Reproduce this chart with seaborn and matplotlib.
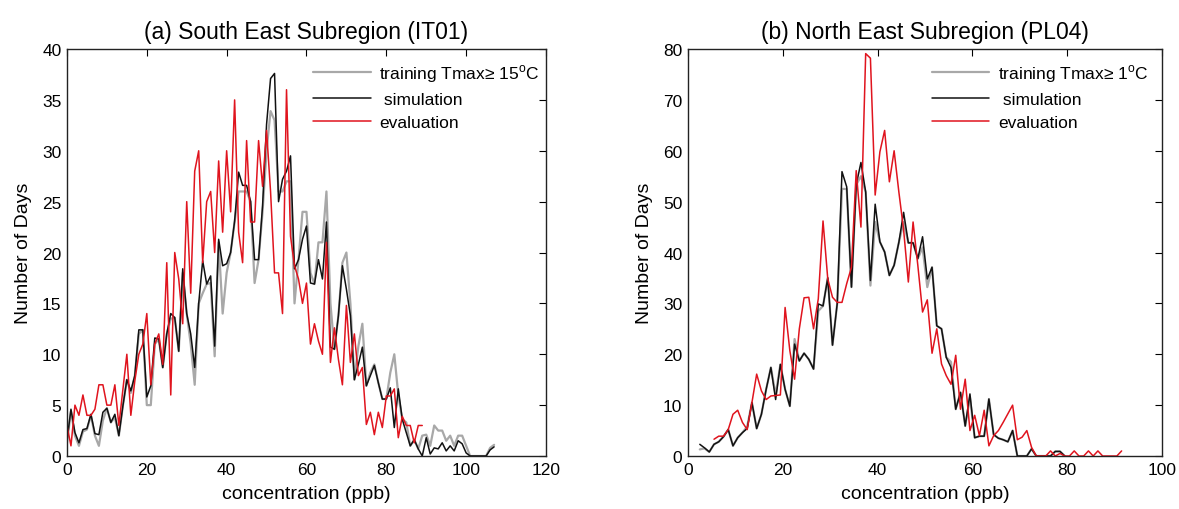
import numpy as np
import pandas as pd
import matplotlib
matplotlib.use('Agg')
import matplotlib.pyplot as plt
import seaborn as sns

# ---- panel (a) South East Subregion (IT01), bins of 1 ppb ----
conc_a = np.arange(0, 108)
sim_a = [1.5, 4.6, 2.3, 1.3, 2.6, 2.7, 4.1, 2.2, 2.1, 4.3,
         4.7, 3.3, 4.1, 2.0, 4.9, 7.5, 6.4, 7.9, 12.4, 12.4,
         5.8, 6.9, 11.6, 11.5, 8.7, 12.0, 14.0, 13.6, 10.3, 18.4,
         14.0, 12.0, 8.7, 15.0, 19.2, 16.9, 17.7, 10.8, 21.3, 18.7,
         18.9, 20.0, 23.1, 27.9, 26.6, 26.6, 25.0, 19.3, 19.3, 24.6,
         32.6, 37.1, 37.6, 25.0, 27.2, 28.0, 29.5, 18.4, 19.3, 21.3,
         22.6, 17.0, 16.9, 19.3, 17.4, 23.0, 10.7, 10.5, 13.8, 18.7,
         16.4, 13.8, 7.5, 9.0, 10.7, 6.9, 7.9, 8.9, 7.2, 5.6,
         5.6, 6.7, 2.8, 6.6, 3.6, 2.3, 1.0, 1.6, 0.7, 0.0,
         1.8, 0.2, 0.8, 0.7, 1.3, 0.5, 1.0, 0.5, 1.5, 1.2,
         0.3, 0.0, 0.0, 0.0, 0.0, 0.0, 0.6, 0.9]
train_a = [1.3, 4.4, 2.0, 1.0, 2.4, 2.6, 4.0, 2.0, 1.0, 3.5,
           4.7, 3.3, 3.8, 2.0, 4.9, 7.5, 6.2, 7.9, 12.0, 12.4,
           5.0, 5.0, 11.0, 11.5, 8.7, 12.0, 13.5, 13.6, 10.3, 18.0,
           14.0, 11.0, 7.0, 15.0, 16.0, 16.9, 17.0, 9.8, 21.0, 14.0,
           18.0, 20.0, 23.0, 26.0, 26.0, 26.0, 25.0, 17.0, 19.3, 24.0,
           30.0, 33.9, 33.0, 26.0, 26.0, 27.0, 27.0, 15.0, 19.3, 24.0,
           24.0, 18.0, 16.9, 21.0, 21.0, 26.0, 15.0, 10.5, 13.8, 19.0,
           20.0, 15.0, 7.5, 10.8, 13.0, 6.9, 8.2, 9.0, 7.2, 5.6,
           5.6, 8.2, 10.0, 6.0, 3.6, 3.3, 1.0, 1.6, 0.7, 2.0,
           2.1, 1.0, 3.0, 2.5, 2.5, 1.5, 2.0, 1.0, 2.0, 2.0,
           1.0, 0.0, 0.0, 0.0, 0.0, 0.0, 0.8, 1.1]
conc_a_eval = np.arange(0, 90)
eval_a = [3.0, 1.0, 5.0, 4.0, 6.0, 4.0, 4.0, 4.6, 7.0, 7.0,
          5.0, 5.0, 7.0, 3.0, 6.5, 10.0, 4.0, 7.4, 10.0, 11.0,
          14.0, 7.0, 11.0, 12.0, 9.0, 19.0, 6.0, 20.0, 17.4, 13.0,
          25.0, 16.0, 28.0, 30.0, 19.0, 25.0, 26.0, 20.0, 29.0, 22.0,
          30.0, 24.0, 35.0, 22.0, 19.0, 31.0, 23.0, 23.0, 31.0, 26.5,
          32.0, 26.0, 18.0, 18.0, 14.0, 36.0, 21.6, 18.7, 17.4, 15.0,
          17.0, 11.0, 13.0, 11.3, 10.0, 21.0, 9.2, 12.6, 9.5, 7.0,
          14.8, 9.2, 12.0, 7.9, 8.7, 3.1, 4.3, 2.1, 4.3, 2.8,
          5.9, 5.9, 6.6, 1.8, 3.9, 3.0, 3.0, 1.3, 3.0, 3.0]

# ---- panel (b) North East Subregion (PL04), bin centres ----
conc_b = np.arange(2, 80) + 0.5
sim_b = [2.3, 1.6, 0.8, 2.3, 2.8, 3.8, 5.2, 2.0, 3.6, 4.6,
         5.4, 10.5, 5.4, 8.2, 13.1, 17.4, 11.1, 18.0, 13.1, 9.8,
         22.0, 18.7, 20.2, 19.0, 17.1, 29.9, 29.5, 35.0, 21.8, 30.0,
         55.9, 52.9, 33.2, 53.3, 57.7, 51.9, 34.5, 49.5, 42.1, 40.1,
         35.5, 37.5, 42.0, 47.9, 41.9, 41.9, 38.8, 43.1, 34.8, 37.1,
         25.6, 25.0, 19.4, 17.4, 9.2, 12.5, 5.9, 12.2, 3.6, 3.9,
         3.9, 11.2, 4.2, 3.5, 3.2, 2.8, 5.0, 0.0, 0.0, 0.0,
         1.4, 0.0, 0.0, 0.0, 0.0, 0.9, 0.9, 0.0]
train_b = [1.3, 1.5, 0.8, 2.3, 2.8, 3.8, 5.2, 2.0, 3.6, 4.6,
           5.8, 10.5, 5.4, 8.2, 13.1, 17.4, 12.0, 18.0, 13.1, 9.8,
           23.0, 18.7, 20.2, 19.0, 17.1, 28.5, 29.5, 35.0, 21.8, 30.0,
           52.5, 52.5, 33.2, 53.3, 55.0, 51.9, 33.5, 46.0, 42.1, 40.1,
           35.5, 37.5, 42.0, 46.0, 41.9, 41.9, 38.8, 41.0, 33.2, 37.1,
           25.6, 25.0, 19.4, 18.5, 9.2, 12.5, 5.9, 11.5, 3.6, 3.9,
           3.9, 11.2, 4.2, 3.5, 3.2, 2.8, 5.0, 0.0, 0.0, 0.0,
           1.4, 0.0, 0.0, 0.0, 0.0, 0.9, 0.9, 0.0]
conc_b_eval = np.arange(5, 92) + 0.5
eval_b = [3.3, 3.9, 3.9, 5.2, 8.2, 9.0, 6.6, 5.2, 10.5, 16.1,
          12.8, 11.1, 11.8, 11.9, 12.0, 29.2, 20.7, 15.1, 25.0, 31.1,
          31.2, 25.0, 30.9, 46.2, 34.8, 31.2, 30.2, 30.2, 33.9, 37.1,
          56.1, 45.0, 79.1, 78.2, 51.3, 59.8, 64.0, 53.9, 60.0, 51.9,
          44.5, 34.2, 46.0, 37.5, 28.3, 30.7, 20.2, 25.0, 18.1, 15.8,
          14.1, 19.8, 9.2, 15.1, 5.0, 8.0, 4.0, 9.0, 2.0, 4.0,
          5.0, 6.6, 8.3, 10.0, 3.2, 3.7, 5.0, 1.7, 0.0, 0.0,
          0.0, 1.0, 0.0, 0.5, 0.0, 0.0, 1.0, 0.0, 0.0, 1.0,
          0.0, 1.0, 0.0, 0.0, 0.0, 0.0, 1.0]

sns.set_style('white')
plt.rcParams['font.family'] = ['Liberation Sans', 'DejaVu Sans']
plt.rcParams['mathtext.fontset'] = 'custom'
plt.rcParams['mathtext.rm'] = 'Liberation Sans'
plt.rcParams['text.color'] = 'black'
plt.rcParams['axes.labelcolor'] = 'black'
plt.rcParams['xtick.color'] = 'black'
plt.rcParams['ytick.color'] = 'black'

GRAY = '#a8a8a8'
BLACK = '#111111'
RED = '#e0141e'

fig = plt.figure(figsize=(11.79, 5.10), dpi=100)
ax1 = fig.add_axes([0.0568, 0.1039, 0.4063, 0.798])
ax2 = fig.add_axes([0.5835, 0.1039, 0.4020, 0.798])

panels = [
    (ax1, conc_a, train_a, sim_a, conc_a_eval, eval_a,
     '(a) South East Subregion (IT01)', 'training Tmax\u2265 15$^{\\rm o}$C',
     (0, 120), np.arange(0, 121, 20), (0, 40), np.arange(0, 41, 5)),
    (ax2, conc_b, train_b, sim_b, conc_b_eval, eval_b,
     '(b) North East Subregion (PL04)', 'training Tmax\u2265 1$^{\\rm o}$C',
     (0, 100), np.arange(0, 101, 20), (0, 80), np.arange(0, 81, 10)),
]

for ax, xc, tr, sm, xe, ev, title, trlab, xl, xt, yl, yt in panels:
    sns.lineplot(x=xc, y=tr, color=GRAY, lw=1.6, ax=ax, label=trlab)
    sns.lineplot(x=xc, y=sm, color=BLACK, lw=1.1, ax=ax, label=' simulation')
    sns.lineplot(x=xe, y=ev, color=RED, lw=1.1, ax=ax, label='evaluation')
    ax.set_xlim(*xl)
    ax.set_ylim(*yl)
    ax.set_xticks(xt)
    ax.set_yticks(yt)
    ax.set_title(title, fontsize=16.5, pad=8)
    ax.set_xlabel('concentration (ppb)', fontsize=14, labelpad=6)
    ax.set_ylabel('Number of Days', fontsize=14, labelpad=7)
    ax.tick_params(direction='in', top=True, right=True, length=5,
                   width=0.8, labelsize=12.5, pad=4)
    for s in ax.spines.values():
        s.set_color('#222222')
        s.set_linewidth(1.0)
    ax.legend(loc='upper left', bbox_to_anchor=(0.5, 0.985), frameon=False,
              fontsize=12.5, handlelength=3.3, handletextpad=0.5,
              labelspacing=0.45, borderaxespad=0.0)

fig.savefig('out.png', dpi=100)
